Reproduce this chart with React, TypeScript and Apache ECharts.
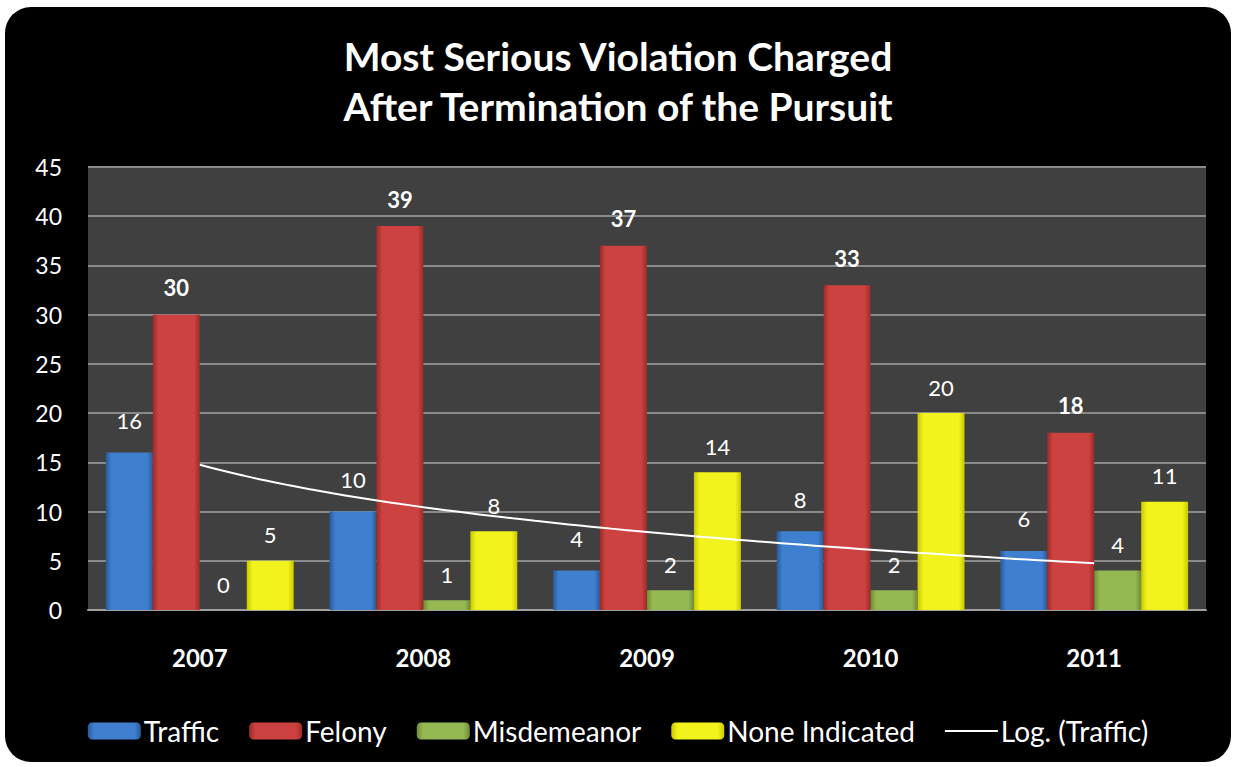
import React, { useEffect, useRef } from "react";
import * as echarts from "echarts";

const years = ["2007", "2008", "2009", "2010", "2011"];
const traffic = [16, 10, 4, 8, 6];
const felony = [30, 39, 37, 33, 18];
const misdemeanor = [0, 1, 2, 2, 4];
const noneIndicated = [5, 8, 14, 20, 11];
const yTicks = { min: 0, max: 45, interval: 5 };

const FONT = "Lato, 'Noto Sans', sans-serif";

function logFit(vals: number[]) {
  const n = vals.length;
  const lx = vals.map((_, i) => Math.log(i + 1));
  const mx = lx.reduce((a, b) => a + b, 0) / n;
  const my = vals.reduce((a, b) => a + b, 0) / n;
  let sxy = 0, sxx = 0;
  for (let i = 0; i < n; i++) {
    sxy += (lx[i] - mx) * (vals[i] - my);
    sxx += (lx[i] - mx) * (lx[i] - mx);
  }
  const a = sxy / sxx;
  const b = my - a * mx;
  const pts: number[][] = [];
  for (let k = 0; k <= 40; k++) {
    const x = 1 + k * 0.1;
    pts.push([x, a * Math.log(x) + b]);
  }
  return pts;
}

function grad(edge: string, mid: string) {
  return new echarts.graphic.LinearGradient(0, 0, 1, 0, [
    { offset: 0, color: edge },
    { offset: 0.12, color: mid },
    { offset: 0.88, color: mid },
    { offset: 1, color: edge },
  ]);
}

export default function App() {
  const ref = useRef<HTMLDivElement>(null);
  useEffect(() => {
    document.body.style.margin = "0";
    const chart = echarts.init(ref.current!, null, { renderer: "svg" });
    const labelBase = {
      show: true,
      position: "top",
      distance: 16,
      color: "#ffffff",
      fontSize: 22,
      fontFamily: FONT,
    };
    const barCommon = {
      type: "bar",
      barGap: "0%",
      barCategoryGap: "16%",
    };
    chart.setOption({
      animation: false,
      backgroundColor: "#ffffff",
      graphic: [
        {
          type: "rect",
          z: -10,
          shape: { x: 5, y: 7, width: 1226, height: 755, r: 26 },
          style: { fill: "#000000" },
        },
      ],
      title: {
        text: "Most Serious Violation Charged\nAfter Termination of the Pursuit",
        left: "center",
        top: 26,
        textStyle: {
          color: "#ffffff",
          fontSize: 39,
          fontWeight: "bold",
          fontFamily: FONT,
          lineHeight: 50,
        },
      },
      legend: {
        top: 712,
        left: "center",
        itemWidth: 53,
        itemHeight: 17,
        itemGap: 30,
        textStyle: { color: "#ffffff", fontSize: 28, fontFamily: FONT, padding: [0, 0, 0, -2] },
        data: [
          "Traffic",
          "Felony",
          "Misdemeanor",
          "None Indicated",
          { name: "Log. (Traffic)", icon: "path://M0,0L53,0L53,2L0,2Z" },
        ],
      },
      grid: {
        left: 88,
        right: 30,
        top: 167,
        bottom: 157,
        show: true,
        backgroundColor: "#404040",
        borderWidth: 0,
      },
      xAxis: [
        {
          type: "category",
          data: years,
          axisLine: { show: true, lineStyle: { color: "#a0a0a0", width: 2 } },
          axisTick: { show: false },
          axisLabel: {
            color: "#ffffff",
            fontSize: 24,
            fontWeight: "bold",
            fontFamily: FONT,
            margin: 35,
          },
        },
        {
          type: "value",
          min: 0.5,
          max: 5.5,
          show: false,
        },
      ],
      yAxis: {
        type: "value",
        min: yTicks.min,
        max: yTicks.max,
        interval: yTicks.interval,
        axisLine: { show: false },
        axisTick: { show: false },
        splitLine: { lineStyle: { color: "#8a8a8a", width: 2 } },
        axisLabel: {
          color: "#ffffff",
          fontSize: 23,
          fontFamily: FONT,
          margin: 26,
        },
      },
      series: [
        {
          ...barCommon,
          name: "Traffic",
          data: traffic,
          itemStyle: { color: grad("#2a5a98", "#3f7fcf") },
          label: { ...labelBase, distance: 21 },
        },
        {
          ...barCommon,
          name: "Felony",
          data: felony,
          itemStyle: { color: grad("#9c2b28", "#cc4240") },
          label: { ...labelBase, fontWeight: "bold", distance: 16 },
        },
        {
          ...barCommon,
          name: "Misdemeanor",
          data: misdemeanor,
          itemStyle: { color: grad("#6f8c35", "#95b853") },
          label: { ...labelBase, distance: 15 },
        },
        {
          ...barCommon,
          name: "None Indicated",
          data: noneIndicated,
          itemStyle: { color: grad("#c8c800", "#f2f21c") },
          label: { ...labelBase, distance: 15 },
        },
        {
          type: "line",
          name: "Log. (Traffic)",
          xAxisIndex: 1,
          yAxisIndex: 0,
          data: logFit(traffic),
          symbol: "none",
          smooth: true,
          lineStyle: { color: "#ffffff", width: 2 },
          itemStyle: { color: "#ffffff" },
          z: 5,
        },
      ],
    });
    return () => chart.dispose();
  }, []);
  return (
    <div
      ref={ref}
      style={{ position: "absolute", left: 0, top: 0, width: 1236, height: 767 }}
    />
  );
}
